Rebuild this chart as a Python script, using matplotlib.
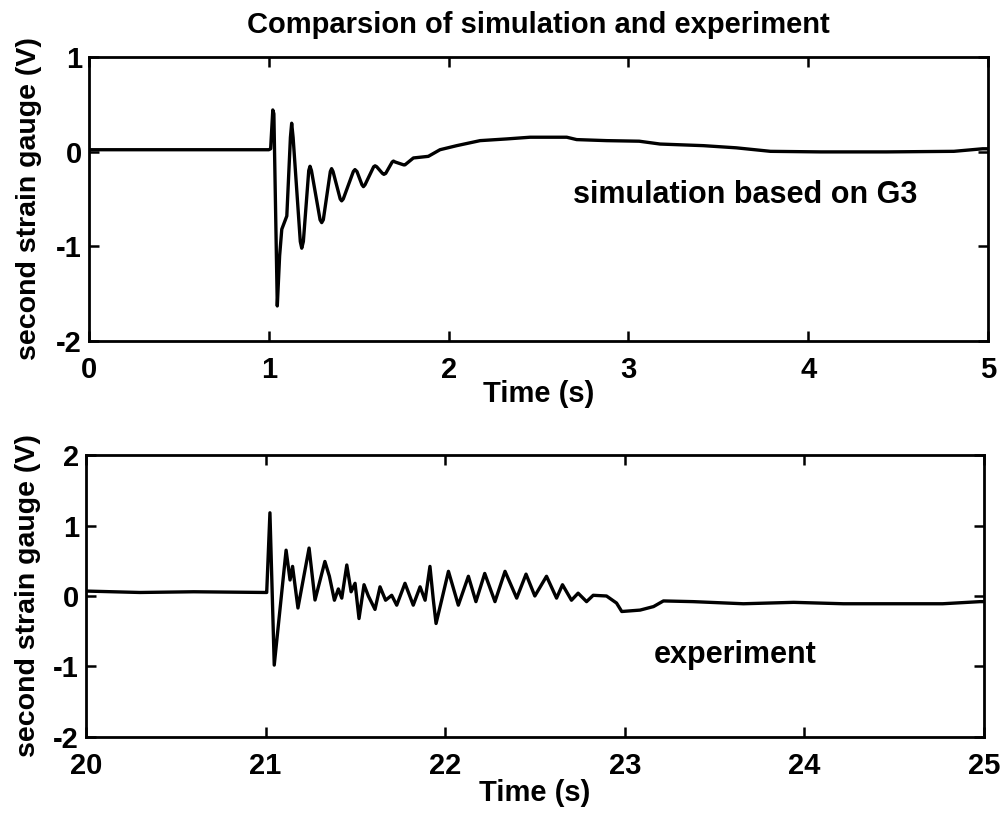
import numpy as np
import matplotlib.pyplot as plt

plt.rcParams['font.family'] = ['Liberation Sans', 'DejaVu Sans']
plt.rcParams['font.weight'] = 'bold'
plt.rcParams['axes.unicode_minus'] = False

# simulated gauge output (based on G3)
sim_t = [0.0, 0.5, 1.0, 1.01, 1.022, 1.028, 1.047, 1.06, 1.072, 1.10, 1.12,
         1.127, 1.135, 1.175, 1.183, 1.192, 1.222, 1.229, 1.237, 1.285, 1.294,
         1.303, 1.342, 1.349, 1.357, 1.397, 1.405, 1.414, 1.47, 1.479, 1.49,
         1.518, 1.526, 1.535, 1.583, 1.591, 1.6, 1.632, 1.64, 1.65, 1.686,
         1.693, 1.703, 1.75, 1.757, 1.804, 1.887, 1.952, 2.045, 2.175, 2.323,
         2.453, 2.657, 2.712, 2.879, 3.06, 3.176, 3.417, 3.60, 3.79, 4.07,
         4.436, 4.81, 4.97, 5.0]
sim_v = [0.02, 0.02, 0.02, 0.03, 0.44, 0.40, -1.63, -1.1, -0.82, -0.68, 0.15,
         0.30, 0.15, -0.95, -1.02, -0.95, -0.2, -0.155, -0.2, -0.72, -0.75,
         -0.72, -0.21, -0.18, -0.21, -0.5, -0.52, -0.5, -0.21, -0.19, -0.21,
         -0.35, -0.37, -0.35, -0.16, -0.15, -0.16, -0.23, -0.24, -0.23, -0.11,
         -0.10, -0.11, -0.14, -0.14, -0.067, -0.05, 0.02, 0.063, 0.116, 0.134,
         0.152, 0.152, 0.127, 0.116, 0.11, 0.08, 0.063, 0.04, 0.003, -0.003,
         -0.003, 0.003, 0.03, 0.03]

# measured gauge output
exp_t = [20.0, 20.3, 20.6, 21.0, 21.006, 21.024, 21.048, 21.114, 21.136, 21.15,
         21.18, 21.242, 21.275, 21.33, 21.355, 21.383, 21.405, 21.424, 21.452,
         21.476, 21.498, 21.52, 21.548, 21.572, 21.609, 21.637, 21.668, 21.702,
         21.73, 21.776, 21.822, 21.86, 21.888, 21.915, 21.934, 21.949, 21.98,
         22.018, 22.073, 22.129, 22.171, 22.22, 22.277, 22.333, 22.398, 22.45,
         22.499, 22.564, 22.62, 22.653, 22.703, 22.74, 22.787, 22.824, 22.898,
         22.954, 22.983, 23.085, 23.16, 23.215, 23.381, 23.66, 23.94, 24.217,
         24.495, 24.77, 24.978, 25.0]
exp_v = [0.07, 0.05, 0.06, 0.05, 0.05, 1.18, -0.98, 0.65, 0.227, 0.42,
         -0.17, 0.68, -0.057, 0.49, 0.28, -0.06, 0.10, -0.03, 0.44,
         0.06, 0.18, -0.32, 0.16, 0.0, -0.19, 0.13, -0.06, 0.01,
         -0.13, 0.18, -0.13, 0.13, -0.06, 0.42, -0.06, -0.39, -0.06,
         0.35, -0.13, 0.28, -0.08, 0.32, -0.08, 0.35, -0.03, 0.31,
         0.0, 0.28, -0.03, 0.16, -0.06, 0.04, -0.08, 0.01, 0.0,
         -0.1, -0.22, -0.20, -0.15, -0.07, -0.08, -0.11, -0.09, -0.11,
         -0.11, -0.11, -0.08, -0.08]

fig = plt.figure(figsize=(10.05, 8.24), dpi=100)
ax1 = fig.add_axes([0.0886, 0.5862, 0.8945, 0.3447])
ax2 = fig.add_axes([0.0856, 0.1056, 0.8935, 0.3422])

for ax in (ax1, ax2):
    for s in ax.spines.values():
        s.set_linewidth(2.0)
    ax.tick_params(direction='in', length=7, width=1.8, top=True, right=True,
                   labelsize=21)
    ax.tick_params(axis='x', pad=11)
    ax.tick_params(axis='y', pad=5)
    ax.set_xlabel('Time (s)', fontsize=21, fontweight='bold', va='center')
    ax.set_ylabel('second strain gauge (V)', fontsize=20.5, fontweight='bold')

ax1.plot(sim_t, sim_v, color='black', lw=2.4)
ax1.set_xlim(0, 5)
ax1.set_ylim(-2, 1)
ax1.set_xticks(np.arange(0, 6))
ax1.set_yticks([-2, -1, 0, 1])
ax1.set_title('Comparsion of simulation and experiment', fontsize=21,
              fontweight='bold', pad=17)
ax1.text(2.69, -0.46, 'simulation based on G3', fontsize=22, fontweight='bold',
         va='center')
ax1.xaxis.set_label_coords(0.5, -0.185)
ax1.yaxis.set_label_coords(-0.052, 0.5)

ax2.plot(exp_t, exp_v, color='black', lw=2.4)
ax2.set_xlim(20, 25)
ax2.set_ylim(-2, 2)
ax2.set_xticks(np.arange(20, 26))
ax2.set_yticks([-2, -1, 0, 1, 2])
ax2.text(23.16, -0.84, 'experiment', fontsize=22, fontweight='bold', va='center')
ax2.xaxis.set_label_coords(0.5, -0.2)
ax2.yaxis.set_label_coords(-0.050, 0.5)

fig.savefig('out.png', dpi=100)
